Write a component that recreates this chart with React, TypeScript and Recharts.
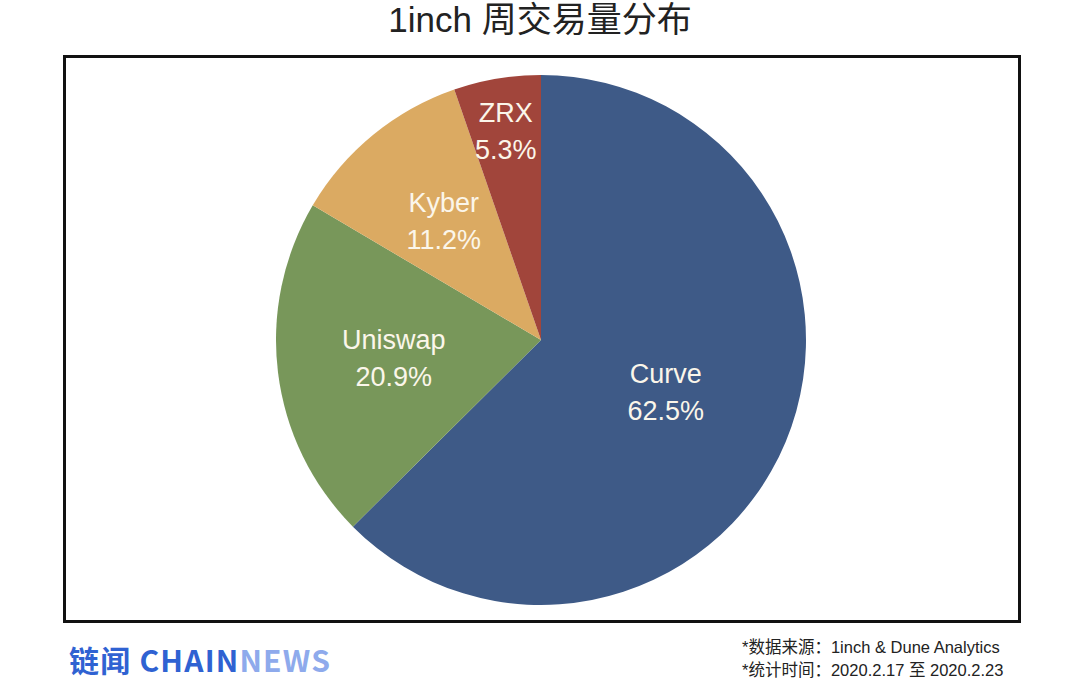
import React from 'react';
import { PieChart, Pie, Cell } from 'recharts';

const names = ['Curve', 'Uniswap', 'Kyber', 'ZRX'];
const shares = [62.5, 20.9, 11.2, 5.3];
const colors = ['#3e5a87', '#78975a', '#dbaa62', '#a1453b'];
const labelRadius = [0.51, 0.56, 0.58, 0.8];

const data = names.map((n, i) => ({ name: n, value: shares[i] }));

const RAD = Math.PI / 180;
const font = '"Liberation Sans", "Noto Sans CJK SC", sans-serif';

const renderLabel = (props: any) => {
  const { cx, cy, midAngle, outerRadius, index, name, value } = props;
  const r = outerRadius * labelRadius[index];
  const x = cx + r * Math.cos(-midAngle * RAD);
  const y = cy + r * Math.sin(-midAngle * RAD);
  return (
    <text x={x} y={y} fill="#fbf6ea" textAnchor="middle" fontSize={27} fontFamily={font}>
      <tspan x={x} dy={-9}>{name}</tspan>
      <tspan x={x} dy={37}>{value.toFixed(1)}%</tspan>
    </text>
  );
};

export default function App() {
  return (
    <div style={{ position: 'absolute', left: 0, top: 0, width: 1080, height: 693, background: '#fff', overflow: 'hidden' }}>
      <div style={{ position: 'absolute', left: 0, top: 0, width: 1080, textAlign: 'center', fontFamily: font, fontSize: 35, color: '#222', lineHeight: '40px' }}>
        1inch 周交易量分布
      </div>
      <div style={{ position: 'absolute', left: 63, top: 55, width: 952, height: 562, border: '3px solid #111' }} />
      <div style={{ position: 'absolute', left: 0, top: 0 }}>
        <PieChart width={1080} height={693} margin={{ top: 0, right: 0, bottom: 0, left: 0 }}>
          <Pie
            data={data}
            dataKey="value"
            nameKey="name"
            cx={541}
            cy={340}
            outerRadius={265}
            startAngle={90}
            endAngle={-270}
            stroke="none"
            label={renderLabel}
            labelLine={false}
            isAnimationActive={false}
          >
            {data.map((d, i) => (
              <Cell key={d.name} fill={colors[i]} />
            ))}
          </Pie>
        </PieChart>
      </div>
      <div style={{ position: 'absolute', left: 69, top: 639, fontFamily: '"Noto Sans CJK SC", "Open Sans", sans-serif', fontWeight: 700, fontSize: 30, lineHeight: '40px', letterSpacing: 1.2, whiteSpace: 'nowrap' }}>
        <span style={{ color: '#2f62d2' }}>链闻 CHAIN</span>
        <span style={{ color: '#8eaaec' }}>NEWS</span>
      </div>
      <div style={{ position: 'absolute', left: 742, top: 636, fontFamily: '"Liberation Sans", "Noto Sans CJK SC", sans-serif', fontSize: 16.5, color: '#222', lineHeight: '23px', whiteSpace: 'nowrap' }}>
        <div>*数据来源：1inch &amp; Dune Analytics</div>
        <div>*统计时间：2020.2.17 至 2020.2.23</div>
      </div>
    </div>
  );
}
